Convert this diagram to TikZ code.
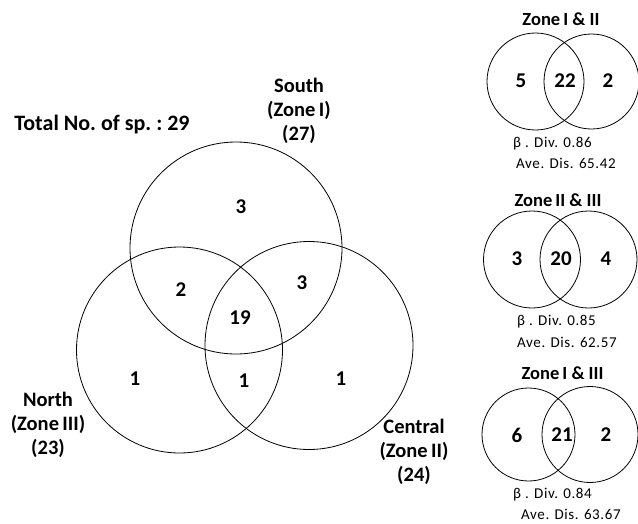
\documentclass[tikz,border=0pt]{standalone}
\usepackage{fontspec}
\setmainfont{Carlito}
\newfontfamily\statfont[LetterSpace=4]{Carlito}
\begin{document}
\begin{tikzpicture}[x=1pt,y=-1pt,
  venn/.style={circle,draw,line width=0.8pt,inner sep=0pt},
  big/.style={font=\bfseries\fontsize{20.5}{24}\selectfont,align=center,inner sep=0pt},
  num/.style={font=\bfseries\fontsize{21}{24}\selectfont,inner sep=0pt},
  ttl/.style={font=\bfseries\fontsize{18.5}{21}\selectfont,inner sep=0pt},
  stat/.style={font=\statfont\fontsize{15}{18}\selectfont,anchor=west,inner sep=0pt}]
\useasboundingbox (0,0) rectangle (638,523);
% big venn
\node[venn,minimum size=212pt] (S) at (236,248) {};
\node[venn,minimum size=206pt] (N) at (179.5,350) {};
\node[venn,minimum size=208pt] (C) at (309,345.5) {};
\node[num] (s3) at (241,207) {3};
\node[num] (sn2) at (181,290) {2};
\node[num] (sc3) at (302,283) {3};
\node[num] (all19) at (240,318) {19};
\node[num] (n1) at (135,379) {1};
\node[num] (nc1) at (244,381) {1};
\node[num] (c1) at (341,379) {1};
\node[big,font=\bfseries\fontsize{22}{24}\selectfont] (total) at (102,125) {Total No.\ of sp.\ :\ 29};
\node[big] (south) at (299,111) {South\\(Zone\,I)\\(27)};
\node[big] (north) at (48,425) {North\\(Zone\,III)\\(23)};
\node[big] (central) at (414,452) {Central\\(Zone\,II)\\(24)};
% Zone I & II
\node[venn,minimum size=97pt] (a1) at (535.5,81.5) {};
\node[venn,minimum size=95pt] (a2) at (591.5,81.5) {};
\node[ttl] (at) at (561,19) {Zone\,I \& II};
\node[num] (a5) at (521,81) {5};
\node[num] (a22) at (565,81) {22};
\node[num] (a2n) at (608,81) {2};
\node[stat] (ab) at (513,144) {β . Div. 0.86};
\node[stat] (aa) at (516,163) {Ave. Dis. 65.42};
% Zone II & III
\node[venn,minimum size=97pt] (b1) at (532,259.5) {};
\node[venn,minimum size=97pt] (b2) at (588.5,259.5) {};
\node[ttl] (bt) at (558,200) {Zone\,II \& III};
\node[num] (b3) at (517,259) {3};
\node[num] (b20) at (561,259) {20};
\node[num] (b4) at (606,259) {4};
\node[stat] (bb) at (517,322) {β . Div. 0.85};
\node[stat] (ba) at (517,342) {Ave. Dis. 62.57};
% Zone I & III
\node[venn,minimum size=93pt] (c1c) at (528.5,434.5) {};
\node[venn,minimum size=96pt] (c2c) at (590,434.5) {};
\node[ttl] (ct) at (562.5,373) {Zone\,I \& III};
\node[num] (c6) at (517,435) {6};
\node[num] (c21) at (562,435) {21};
\node[num] (c2n) at (606,435) {2};
\node[stat] (cb) at (513,495) {β . Div. 0.84};
\node[stat] (ca) at (521,514) {Ave. Dis. 63.67};
\end{tikzpicture}
\end{document}
